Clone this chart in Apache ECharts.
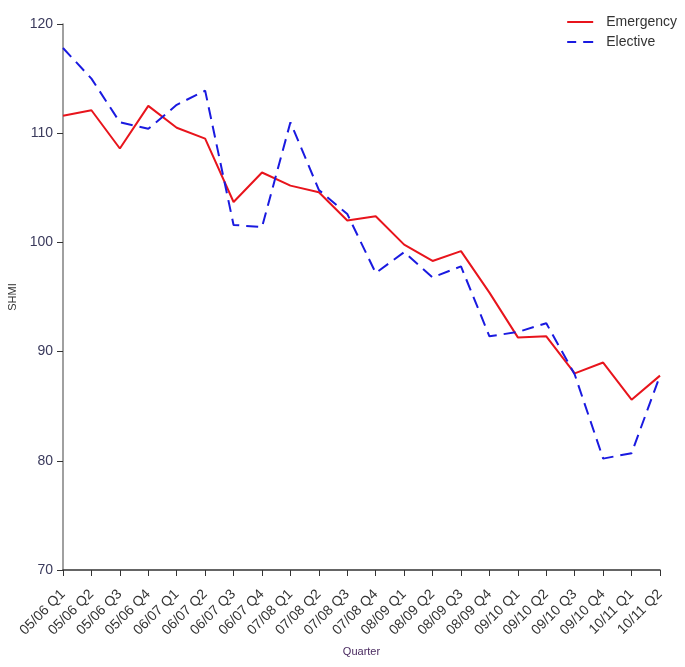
<!DOCTYPE html>
<html>
<head>
<meta charset="utf-8">
<script src="https://cdn.jsdelivr.net/npm/echarts@6/dist/echarts.min.js"></script>
<style>html,body{margin:0;padding:0;background:#fff;}#c{width:685px;height:667px;}</style>
</head>
<body>
<div id="c"></div>
<script>
var categories = ["05/06 Q1","05/06 Q2","05/06 Q3","05/06 Q4","06/07 Q1","06/07 Q2","06/07 Q3","06/07 Q4","07/08 Q1","07/08 Q2","07/08 Q3","07/08 Q4","08/09 Q1","08/09 Q2","08/09 Q3","08/09 Q4","09/10 Q1","09/10 Q2","09/10 Q3","09/10 Q4","10/11 Q1","10/11 Q2"];
var emergency = [111.6,112.1,108.6,112.5,110.5,109.5,103.7,106.4,105.2,104.6,102.0,102.4,99.8,98.3,99.2,95.4,91.3,91.4,88.0,89.0,85.6,87.8];
var elective = [117.8,115.0,111.0,110.4,112.6,113.9,101.6,101.4,111.0,104.8,102.6,97.2,99.1,96.8,97.8,91.4,91.8,92.6,87.9,80.2,80.7,87.8];
var yTicks = {min:70, max:120, interval:10};

var chart = echarts.init(document.getElementById('c'));
chart.setOption({
  animation:false,
  backgroundColor:'#fff',
  textStyle:{fontFamily:'Liberation Sans, Arial, sans-serif'},
  legend:{
    orient:'vertical', right:3, top:10, itemWidth:26, itemHeight:10, itemGap:6,
    textStyle:{color:'#333', fontSize:14, padding:[0,0,0,8]},
    data:[
      {name:'Emergency', icon:'path://M0,4 L26,4 L26,6 L0,6 Z'},
      {name:'Elective', icon:'path://M0,4 L9,4 L9,6 L0,6 Z M16,4 L26,4 L26,6 L16,6 Z'}
    ]
  },
  grid:{left:63, right:25, top:24, bottom:97, containLabel:false, outerBoundsMode:'none'},
  xAxis:{
    type:'category', data:categories, boundaryGap:false,
    name:'Quarter', nameLocation:'middle', nameGap:76,
    nameTextStyle:{color:'#4a2a60', fontSize:11},
    axisLine:{lineStyle:{color:'#333', width:1.5}},
    axisTick:{alignWithLabel:true, length:6, lineStyle:{color:'#333'}},
    axisLabel:{rotate:45, color:'#333', fontSize:14, interval:0, margin:22},
    splitLine:{show:false}
  },
  yAxis:{
    type:'value', min:yTicks.min, max:yTicks.max, interval:yTicks.interval,
    name:'SHMI', nameLocation:'middle', nameGap:41, nameRotate:90,
    nameTextStyle:{color:'#333', fontSize:11},
    axisLine:{show:true, lineStyle:{color:'#808080', width:1.5}},
    axisTick:{show:true, length:6, lineStyle:{color:'#333'}},
    axisLabel:{color:'#3a3a5c', fontSize:14, margin:10},
    splitLine:{show:false}
  },
  series:[
    {name:'Emergency', type:'line', data:emergency, symbol:'none', color:'#e8141c',
     lineStyle:{color:'#e8141c', width:2}},
    {name:'Elective', type:'line', data:elective, symbol:'none', color:'#1a1ae0',
     lineStyle:{color:'#1a1ae0', width:2, type:[12,7]}}
  ]
});
</script>
</body>
</html>
